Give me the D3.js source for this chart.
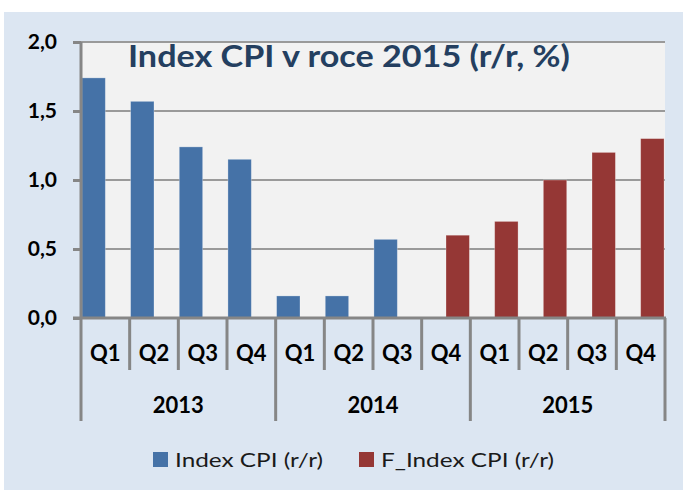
<!DOCTYPE html>
<html>
<head>
<meta charset="utf-8">
<script src="https://cdn.jsdelivr.net/npm/d3@7"></script>
<style>
  body { margin: 0; background: #fff; }
  svg { display: block; font-family: Lato, "Open Sans", sans-serif; }
</style>
</head>
<body>
<div id="chart"></div>
<script>
// categories
var years = ["2013", "2014", "2015"];
var quarters = ["Q1", "Q2", "Q3", "Q4"];

// series values (null = no bar)
var cpiValues  = [1.74, 1.57, 1.24, 1.15, 0.16, 0.16, 0.57, null, null, null, null, null];
var fcpiValues = [null, null, null, null, null, null, null, 0.60, 0.70, 1.00, 1.20, 1.30];

var seriesNames = ["Index CPI (r/r)", "F_Index CPI (r/r)"];
var seriesColors = ["#4572A7", "#953735"];
var yTicks = [0, 0.5, 1.0, 1.5, 2.0];

var W = 683, H = 490;
var plot = { left: 81, right: 665, top: 42, bottom: 318 };

var svg = d3.select("#chart").append("svg")
    .attr("width", W)
    .attr("height", H);

// panel background
svg.append("rect")
    .attr("x", 4).attr("y", 12)
    .attr("width", W - 4).attr("height", H - 12)
    .attr("fill", "#DCE6F2");

svg.append("rect")
    .attr("x", plot.left).attr("y", plot.top)
    .attr("width", plot.right - plot.left).attr("height", plot.bottom - plot.top)
    .attr("fill", "#F2F2F2");

// build category keys year+quarter
var cats = [];
years.forEach(function(y) {
  quarters.forEach(function(q) { cats.push({ year: y, q: q, key: y + q }); });
});

var x = d3.scaleBand()
    .domain(cats.map(function(d) { return d.key; }))
    .range([plot.left, plot.right])
    .paddingInner(0).paddingOuter(0);

var xs = d3.scaleBand()
    .domain([0, 1])
    .range([0, x.bandwidth()])
    .paddingInner(0.0).paddingOuter(0.04);

var y = d3.scaleLinear().domain([0, 2]).range([plot.bottom, plot.top]);

var csFormat = d3.formatLocale({ decimal: ",", thousands: " ", grouping: [3], currency: ["", " Kč"] }).format(".1f");

// gridlines
svg.append("g")
    .selectAll("line")
    .data(yTicks.filter(function(t) { return t > 0; }))
    .join("line")
    .attr("x1", plot.left).attr("x2", plot.right)
    .attr("y1", function(d) { return y(d); })
    .attr("y2", function(d) { return y(d); })
    .attr("stroke", "#9a9a9a")
    .attr("stroke-width", 2);

// bars
var allSeries = [cpiValues, fcpiValues];
allSeries.forEach(function(vals, si) {
  var data = cats.map(function(c, i) { return { key: c.key, v: vals[i] }; })
      .filter(function(d) { return d.v != null; });
  svg.append("g")
      .selectAll("rect")
      .data(data)
      .join("rect")
      .attr("x", function(d) { return x(d.key) + xs(si); })
      .attr("width", xs.bandwidth())
      .attr("y", function(d) { return y(d.v); })
      .attr("height", function(d) { return y(0) - y(d.v); })
      .attr("fill", seriesColors[si])
      .attr("stroke", "rgba(255,255,255,0.35)")
      .attr("stroke-width", 0.8);
});

// title
svg.append("text")
    .attr("x", 128).attr("y", 67)
    .attr("fill", "#243F60")
    .attr("font-weight", "bold")
    .attr("font-size", 31)
    .attr("textLength", 442)
    .attr("lengthAdjust", "spacingAndGlyphs")
    .text("Index CPI v roce 2015 (r/r, %)");

// y axis
var yAxis = d3.axisLeft(y)
    .tickValues(yTicks)
    .tickFormat(csFormat)
    .tickSize(8)
    .tickPadding(16);

var yg = svg.append("g")
    .attr("transform", "translate(" + plot.left + ",0)")
    .call(yAxis);
yg.select(".domain").remove();
yg.selectAll(".tick line").attr("stroke", "#868686").attr("stroke-width", 3);
yg.selectAll(".tick text")
    .attr("font-size", 21)
    .attr("font-weight", "bold")
    .attr("font-family", "Lato, sans-serif")
    .attr("fill", "#000");

svg.append("line")
    .attr("x1", plot.left).attr("x2", plot.left)
    .attr("y1", plot.top).attr("y2", plot.bottom)
    .attr("stroke", "#868686").attr("stroke-width", 3);

// category axis (two levels)
var ax = svg.append("g").attr("stroke", "#868686").attr("stroke-width", 3);
ax.append("line")
    .attr("x1", plot.left - 8).attr("x2", plot.right + 1)
    .attr("y1", plot.bottom).attr("y2", plot.bottom);

var bounds = cats.map(function(c, i) { return { i: i, pos: x(c.key) }; });
bounds.push({ i: cats.length, pos: plot.right });
ax.selectAll("line.b")
    .data(bounds)
    .join("line")
    .attr("class", "b")
    .attr("x1", function(d) { return d.pos; })
    .attr("x2", function(d) { return d.pos; })
    .attr("y1", plot.bottom)
    .attr("y2", function(d) { return d.i % 4 === 0 ? 421 : 370; });

svg.append("g")
    .selectAll("text")
    .data(cats)
    .join("text")
    .attr("x", function(d) { return x(d.key) + x.bandwidth() / 2; })
    .attr("y", 361)
    .attr("text-anchor", "middle")
    .attr("font-size", 22)
    .attr("font-weight", "bold")
    .text(function(d) { return d.q; });

svg.append("g")
    .selectAll("text")
    .data(years)
    .join("text")
    .attr("x", function(d) { return (x(d + "Q1") + x(d + "Q4") + x.bandwidth()) / 2; })
    .attr("y", 413)
    .attr("text-anchor", "middle")
    .attr("font-size", 22)
    .attr("font-weight", "bold")
    .text(function(d) { return d; });

// legend
var legendX = [153, 359];
var legendLen = [148, 173];
var lg = svg.append("g")
    .selectAll("g")
    .data(seriesNames)
    .join("g")
    .attr("transform", function(d, i) { return "translate(" + legendX[i] + ",452)"; });
lg.append("rect")
    .attr("width", 15).attr("height", 15)
    .attr("fill", function(d, i) { return seriesColors[i]; });
lg.append("text")
    .attr("x", 22).attr("y", 15)
    .attr("font-size", 20)
    .attr("fill", "#1a1a1a")
    .attr("textLength", function(d, i) { return legendLen[i]; })
    .attr("lengthAdjust", "spacingAndGlyphs")
    .text(function(d) { return d; });
</script>
</body>
</html>
